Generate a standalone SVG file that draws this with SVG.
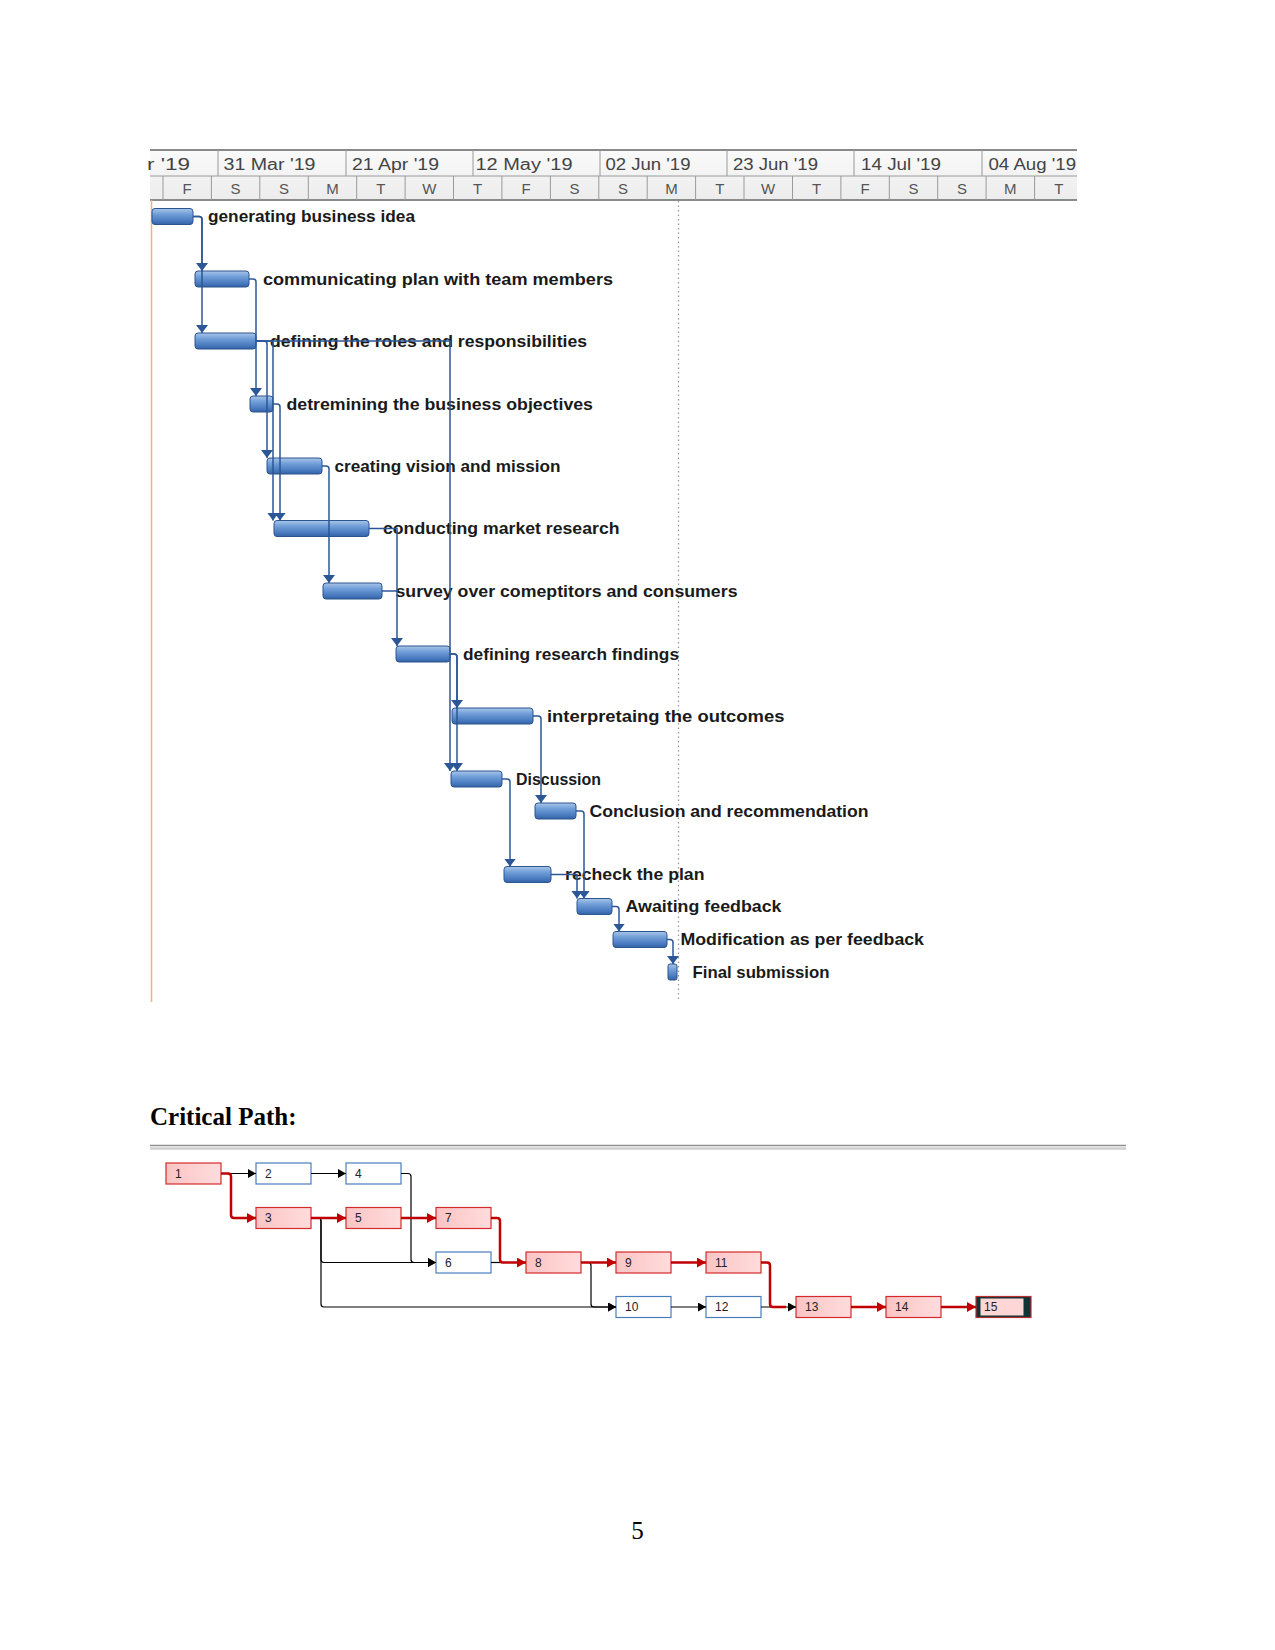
<svg xmlns="http://www.w3.org/2000/svg" width="1275" height="1650" viewBox="0 0 1275 1650">
<defs>
<linearGradient id="barGrad" x1="0" y1="0" x2="0" y2="1">
<stop offset="0" stop-color="#a9c6ea"/>
<stop offset="0.35" stop-color="#729fd8"/>
<stop offset="0.75" stop-color="#4b7cc1"/>
<stop offset="1" stop-color="#3462a5"/>
</linearGradient>
<linearGradient id="critGrad" x1="0" y1="0" x2="1" y2="0">
<stop offset="0" stop-color="#fbc4c4"/>
<stop offset="1" stop-color="#ffdcdc"/>
</linearGradient>
<linearGradient id="hdrGrad" x1="0" y1="0" x2="0" y2="1">
<stop offset="0" stop-color="#fafafa"/>
<stop offset="1" stop-color="#ececec"/>
</linearGradient>
<marker id="gArrow" markerUnits="userSpaceOnUse" markerWidth="8" markerHeight="12" viewBox="0 0 8 12" refX="8" refY="6" orient="auto">
<path d="M0,0 L8,6 L0,12 z" fill="#2b5797"/>
</marker>
<marker id="bArrow" markerUnits="userSpaceOnUse" markerWidth="8" markerHeight="9" viewBox="0 0 8 9" refX="8" refY="4.5" orient="auto">
<path d="M0,0 L8,4.5 L0,9 z" fill="#000"/>
</marker>
<marker id="rArrow" markerUnits="userSpaceOnUse" markerWidth="9" markerHeight="10" viewBox="0 0 9 10" refX="9" refY="5" orient="auto">
<path d="M0,0 L9,5 L0,10 z" fill="#c00000"/>
</marker>
</defs>
<style>
.hdr{fill:url(#hdrGrad);stroke:none}
.hline{stroke:#9a9a9a;stroke-width:1}
.hthick{stroke:#8a8a8a;stroke-width:2}
.mon{font-family:"Liberation Sans",Arial,sans-serif;font-size:16px;fill:#444}
.day{font-family:"Liberation Sans",Arial,sans-serif;font-size:15px;fill:#555;text-anchor:middle}
.bar{fill:url(#barGrad);stroke:#2d558f;stroke-width:1}
.lbl{font-family:"Liberation Sans",Arial,sans-serif;font-size:17px;font-weight:bold;fill:#1a1a1a}
.gl{fill:none;stroke:#2b5797;stroke-width:1.5}
.ga{marker-end:url(#gArrow)}
.crit{fill:url(#critGrad);stroke:#d42a2a;stroke-width:1.2}
.norm{fill:#fff;stroke:#4a7ebb;stroke-width:1.2}
.num{font-family:"Liberation Sans",Arial,sans-serif;font-size:12px;fill:#222}
.bl{fill:none;stroke:#000;stroke-width:1.2}
.rl{fill:none;stroke:#c00000;stroke-width:2.5}
.doc{font-family:"Liberation Serif","Times New Roman",serif;fill:#000}
</style>
<rect x="0" y="0" width="1275" height="1650" fill="#fff"/>

<!-- Gantt timescale header -->
<g id="timescale">
<rect class="hdr" x="150" y="150" width="927" height="50"/>
<line class="hthick" x1="150" y1="150" x2="1077" y2="150"/>
<line class="hline" x1="150" y1="176" x2="1077" y2="176"/>
<line class="hthick" x1="150" y1="200" x2="1077" y2="200"/>
<g class="hline">
<line x1="218" y1="150" x2="218" y2="176"/>
<line x1="346" y1="150" x2="346" y2="176"/>
<line x1="473" y1="150" x2="473" y2="176"/>
<line x1="600" y1="150" x2="600" y2="176"/>
<line x1="727" y1="150" x2="727" y2="176"/>
<line x1="854" y1="150" x2="854" y2="176"/>
<line x1="982" y1="150" x2="982" y2="176"/>
<line x1="163" y1="176" x2="163" y2="200"/>
<line x1="211.4" y1="176" x2="211.4" y2="200"/>
<line x1="259.8" y1="176" x2="259.8" y2="200"/>
<line x1="308.3" y1="176" x2="308.3" y2="200"/>
<line x1="356.7" y1="176" x2="356.7" y2="200"/>
<line x1="405.1" y1="176" x2="405.1" y2="200"/>
<line x1="453.5" y1="176" x2="453.5" y2="200"/>
<line x1="501.9" y1="176" x2="501.9" y2="200"/>
<line x1="550.4" y1="176" x2="550.4" y2="200"/>
<line x1="598.8" y1="176" x2="598.8" y2="200"/>
<line x1="647.2" y1="176" x2="647.2" y2="200"/>
<line x1="695.6" y1="176" x2="695.6" y2="200"/>
<line x1="744" y1="176" x2="744" y2="200"/>
<line x1="792.5" y1="176" x2="792.5" y2="200"/>
<line x1="840.9" y1="176" x2="840.9" y2="200"/>
<line x1="889.3" y1="176" x2="889.3" y2="200"/>
<line x1="937.7" y1="176" x2="937.7" y2="200"/>
<line x1="986.1" y1="176" x2="986.1" y2="200"/>
<line x1="1034.6" y1="176" x2="1034.6" y2="200"/>
</g>
<text class="mon" x="147" y="169.5" textLength="43" lengthAdjust="spacingAndGlyphs">r '19</text>
<text class="mon" x="223.5" y="169.5" textLength="92" lengthAdjust="spacingAndGlyphs">31 Mar '19</text>
<text class="mon" x="352" y="169.5" textLength="87" lengthAdjust="spacingAndGlyphs">21 Apr '19</text>
<text class="mon" x="475.5" y="169.5" textLength="97" lengthAdjust="spacingAndGlyphs">12 May '19</text>
<text class="mon" x="605.5" y="169.5" textLength="85" lengthAdjust="spacingAndGlyphs">02 Jun '19</text>
<text class="mon" x="733" y="169.5" textLength="85" lengthAdjust="spacingAndGlyphs">23 Jun '19</text>
<text class="mon" x="861" y="169.5" textLength="80" lengthAdjust="spacingAndGlyphs">14 Jul '19</text>
<text class="mon" x="988.5" y="169.5" textLength="87.5" lengthAdjust="spacingAndGlyphs">04 Aug '19</text>
<text class="day" x="187.2" y="194">F</text>
<text class="day" x="235.6" y="194">S</text>
<text class="day" x="284" y="194">S</text>
<text class="day" x="332.5" y="194">M</text>
<text class="day" x="380.9" y="194">T</text>
<text class="day" x="429.3" y="194">W</text>
<text class="day" x="477.7" y="194">T</text>
<text class="day" x="526.1" y="194">F</text>
<text class="day" x="574.6" y="194">S</text>
<text class="day" x="623" y="194">S</text>
<text class="day" x="671.4" y="194">M</text>
<text class="day" x="719.8" y="194">T</text>
<text class="day" x="768.2" y="194">W</text>
<text class="day" x="816.7" y="194">T</text>
<text class="day" x="865.1" y="194">F</text>
<text class="day" x="913.5" y="194">S</text>
<text class="day" x="961.9" y="194">S</text>
<text class="day" x="1010.3" y="194">M</text>
<text class="day" x="1058.8" y="194">T</text>
</g>

<!-- project start line and status date line -->
<line x1="151.5" y1="200" x2="151.5" y2="1002" stroke="#f2b27c" stroke-width="1.5"/>
<line x1="678.5" y1="201" x2="678.5" y2="1000" stroke="#9a9a9a" stroke-width="1.3" stroke-dasharray="1.5,3"/>

<!-- Gantt tasks -->
<g id="task1"><rect class="bar" x="152" y="208.5" width="41" height="16" rx="3"/><text class="lbl" x="208" y="222" textLength="207" lengthAdjust="spacingAndGlyphs">generating business idea</text></g>
<g id="task2"><rect class="bar" x="195" y="271" width="54" height="16" rx="3"/><text class="lbl" x="263" y="284.5" textLength="350" lengthAdjust="spacingAndGlyphs">communicating plan with team members</text></g>
<g id="task3"><rect class="bar" x="195" y="333" width="61" height="16" rx="3"/><text class="lbl" x="270" y="346.5" textLength="317" lengthAdjust="spacingAndGlyphs">defining the roles and responsibilities</text></g>
<g id="task4"><rect class="bar" x="250" y="396" width="23" height="16" rx="3"/><text class="lbl" x="286.5" y="409.5" textLength="306.5" lengthAdjust="spacingAndGlyphs">detremining the business objectives</text></g>
<g id="task5"><rect class="bar" x="267" y="458" width="55" height="16" rx="3"/><text class="lbl" x="334.5" y="471.5" textLength="226" lengthAdjust="spacingAndGlyphs">creating vision and mission</text></g>
<g id="task6"><rect class="bar" x="274" y="520.5" width="95" height="16" rx="3"/><text class="lbl" x="383" y="534" textLength="236.5" lengthAdjust="spacingAndGlyphs">conducting market research</text></g>
<g id="task7"><rect class="bar" x="323" y="583" width="59" height="16" rx="3"/><text class="lbl" x="395.5" y="596.5" textLength="342" lengthAdjust="spacingAndGlyphs">survey over comeptitors and consumers</text></g>
<g id="task8"><rect class="bar" x="396" y="646" width="54" height="16" rx="3"/><text class="lbl" x="463" y="659.5" textLength="216" lengthAdjust="spacingAndGlyphs">defining research findings</text></g>
<g id="task9"><rect class="bar" x="452" y="708" width="81" height="16" rx="3"/><text class="lbl" x="547" y="721.5" textLength="237.5" lengthAdjust="spacingAndGlyphs">interpretaing the outcomes</text></g>
<g id="task10"><rect class="bar" x="451" y="771" width="51" height="16" rx="3"/><text class="lbl" x="516" y="784.5" textLength="85" lengthAdjust="spacingAndGlyphs">Discussion</text></g>
<g id="task11"><rect class="bar" x="535" y="803" width="41" height="16" rx="3"/><text class="lbl" x="589.5" y="816.5" textLength="279" lengthAdjust="spacingAndGlyphs">Conclusion and recommendation</text></g>
<g id="task12"><rect class="bar" x="504" y="866.5" width="47" height="16" rx="3"/><text class="lbl" x="565" y="880" textLength="139.5" lengthAdjust="spacingAndGlyphs">recheck the plan</text></g>
<g id="task13"><rect class="bar" x="577" y="898.5" width="35" height="16" rx="3"/><text class="lbl" x="625.5" y="912" textLength="156" lengthAdjust="spacingAndGlyphs">Awaiting feedback</text></g>
<g id="task14"><rect class="bar" x="613" y="931.5" width="54" height="16" rx="3"/><text class="lbl" x="680.5" y="945" textLength="243.5" lengthAdjust="spacingAndGlyphs">Modification as per feedback</text></g>
<g id="task15"><rect class="bar" x="668" y="964" width="9" height="16" rx="2"/><text class="lbl" x="692.5" y="977.5" textLength="137" lengthAdjust="spacingAndGlyphs">Final submission</text></g>

<!-- Gantt dependency links -->
<g id="gantt-links">
<path class="gl ga" d="M193,216.5 H199 Q202,216.5 202,219.5 V271"/>
<path class="gl ga" d="M193,216.5 H199 Q202,216.5 202,219.5 V333"/>
<path class="gl ga" d="M249,279 H253 Q256,279 256,282 V396"/>
<path class="gl ga" d="M256,341 H264 Q267,341 267,344 V458"/>
<path class="gl ga" d="M256,341 H273 V520.5"/>
<path class="gl ga" d="M256,341 H450 V771"/>
<path class="gl ga" d="M273,404 H277 Q280,404 280,407 V520.5"/>
<path class="gl ga" d="M322,466 H326 Q329,466 329,469 V583"/>
<path class="gl ga" d="M369,528.5 H397 V646"/>
<path class="gl" d="M382,591 H397"/>
<path class="gl ga" d="M450,654 H454 Q457,654 457,657 V708"/>
<path class="gl ga" d="M450,654 H454 Q457,654 457,657 V771"/>
<path class="gl ga" d="M533,716 H538 Q541,716 541,719 V803"/>
<path class="gl ga" d="M502,779 H507 Q510,779 510,782 V866.5"/>
<path class="gl ga" d="M576,811 H581 Q584,811 584,814 V898.5"/>
<path class="gl ga" d="M551,874.5 H577 V898.5"/>
<path class="gl ga" d="M612,906.5 H616 Q619,906.5 619,909.5 V931.5"/>
<path class="gl ga" d="M667,939.5 H670 Q673,939.5 673,942.5 V964"/>
</g>

<!-- Critical path heading -->
<text class="doc" x="150" y="1125" font-size="25" font-weight="bold">Critical Path:</text>
<line x1="150" y1="1145.5" x2="1126" y2="1145.5" stroke="#8f8f8f" stroke-width="1.5"/>
<line x1="150" y1="1148.5" x2="1126" y2="1148.5" stroke="#cfcfcf" stroke-width="2.5"/>

<!-- Network diagram nodes -->
<g id="cp1"><rect class="crit" x="166" y="1163" width="55" height="21"/><text class="num" x="175" y="1177.5">1</text></g>
<g id="cp2"><rect class="norm" x="256" y="1163" width="55" height="21"/><text class="num" x="265" y="1177.5">2</text></g>
<g id="cp4"><rect class="norm" x="346" y="1163" width="55" height="21"/><text class="num" x="355" y="1177.5">4</text></g>
<g id="cp3"><rect class="crit" x="256" y="1207.5" width="55" height="21"/><text class="num" x="265" y="1222">3</text></g>
<g id="cp5"><rect class="crit" x="346" y="1207.5" width="55" height="21"/><text class="num" x="355" y="1222">5</text></g>
<g id="cp7"><rect class="crit" x="436" y="1207.5" width="55" height="21"/><text class="num" x="445" y="1222">7</text></g>
<g id="cp6"><rect class="norm" x="436" y="1252" width="55" height="21"/><text class="num" x="445" y="1266.5">6</text></g>
<g id="cp8"><rect class="crit" x="526" y="1252" width="55" height="21"/><text class="num" x="535" y="1266.5">8</text></g>
<g id="cp9"><rect class="crit" x="616" y="1252" width="55" height="21"/><text class="num" x="625" y="1266.5">9</text></g>
<g id="cp11"><rect class="crit" x="706" y="1252" width="55" height="21"/><text class="num" x="715" y="1266.5">11</text></g>
<g id="cp10"><rect class="norm" x="616" y="1296.5" width="55" height="21"/><text class="num" x="625" y="1311">10</text></g>
<g id="cp12"><rect class="norm" x="706" y="1296.5" width="55" height="21"/><text class="num" x="715" y="1311">12</text></g>
<g id="cp13"><rect class="crit" x="796" y="1296.5" width="55" height="21"/><text class="num" x="805" y="1311">13</text></g>
<g id="cp14"><rect class="crit" x="886" y="1296.5" width="55" height="21"/><text class="num" x="895" y="1311">14</text></g>
<g id="cp15"><rect x="976" y="1296.5" width="55" height="21" fill="#0f3535" stroke="#b83030" stroke-width="1.2"/><rect x="980.5" y="1298.5" width="43" height="17" fill="#ffd6d6"/><text class="num" x="984" y="1311">15</text></g>

<!-- Network diagram links -->
<g id="cp-links">
<path class="bl" d="M221,1173.5 H256" marker-end="url(#bArrow)"/>
<path class="bl" d="M311,1173.5 H346" marker-end="url(#bArrow)"/>
<path class="bl" d="M401,1173.5 H408 Q411,1173.5 411,1176.5 V1259.5 Q411,1262.5 414,1262.5 H436" marker-end="url(#bArrow)"/>
<path class="bl" d="M311,1218 H318 Q321,1218 321,1221 V1259.5 Q321,1262.5 324,1262.5 H436" marker-end="url(#bArrow)"/>
<path class="bl" d="M311,1218 H318 Q321,1218 321,1221 V1304 Q321,1307 324,1307 H616" marker-end="url(#bArrow)"/>
<path class="bl" d="M491,1262.5 H504"/>
<path class="bl" d="M581,1262.5 H588 Q591,1262.5 591,1265.5 V1304 Q591,1307 594,1307 H616" marker-end="url(#bArrow)"/>
<path class="bl" d="M671,1307 H706" marker-end="url(#bArrow)"/>
<path class="bl" d="M761,1307 H796" marker-end="url(#bArrow)"/>
<path class="rl" d="M221,1173.5 H228 Q231,1173.5 231,1176.5 V1215 Q231,1218 234,1218 H256" marker-end="url(#rArrow)"/>
<path class="rl" d="M311,1218 H346" marker-end="url(#rArrow)"/>
<path class="rl" d="M401,1218 H436" marker-end="url(#rArrow)"/>
<path class="rl" d="M491,1218 H497 Q500,1218 500,1221 V1259.5 Q500,1262.5 503,1262.5 H526" marker-end="url(#rArrow)"/>
<path class="rl" d="M581,1262.5 H616" marker-end="url(#rArrow)"/>
<path class="rl" d="M671,1262.5 H706" marker-end="url(#rArrow)"/>
<path class="rl" d="M761,1262.5 H767 Q770,1262.5 770,1265.5 V1304 Q770,1307 773,1307 H786"/>
<path class="rl" d="M851,1307 H886" marker-end="url(#rArrow)"/>
<path class="rl" d="M941,1307 H976" marker-end="url(#rArrow)"/>
</g>

<text class="doc" x="637.5" y="1539" font-size="25" text-anchor="middle">5</text>
</svg>
